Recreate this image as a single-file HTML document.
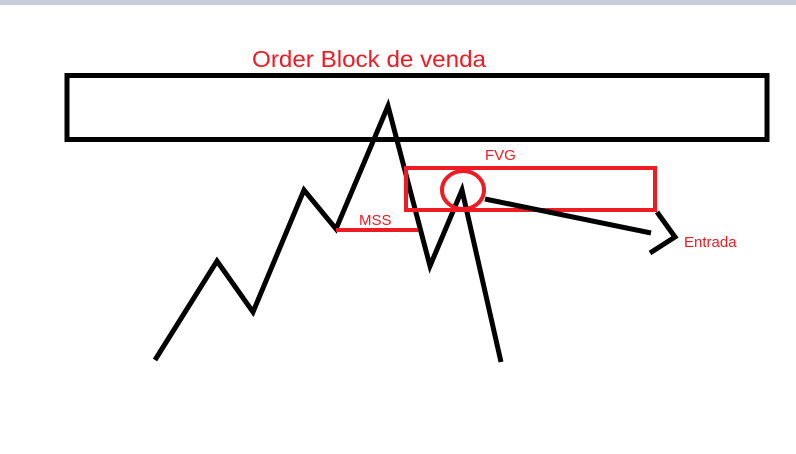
<!DOCTYPE html>
<html><head><meta charset="utf-8"><style>
html,body{margin:0;padding:0;background:#fff;width:796px;height:454px;overflow:hidden}
svg{display:block}
text{font-family:"Liberation Sans",sans-serif;fill:#ed1c24}
</style></head><body>
<svg width="796" height="454" viewBox="0 0 796 454">
<rect x="0" y="0" width="796" height="5" fill="#c8cdd9"/>
<text x="252" y="67" font-size="23.5" textLength="234" lengthAdjust="spacingAndGlyphs">Order Block de venda</text>
<rect x="67" y="75.5" width="700" height="64" fill="none" stroke="#000" stroke-width="5"/>
<polyline points="155,360 217,261 253,312 304,190 336,229 388,106 430,266 462,190 501,362" fill="none" stroke="#000" stroke-width="5" stroke-linejoin="miter"/>
<line x1="336" y1="230" x2="418" y2="230" stroke="#ed1c24" stroke-width="4"/>
<text x="359" y="225" font-size="15">MSS</text>
<rect x="406" y="168" width="249" height="42" fill="none" stroke="#ed1c24" stroke-width="4"/>
<text x="485" y="160" font-size="15">FVG</text>
<ellipse cx="463" cy="190" rx="21" ry="19" fill="none" stroke="#ed1c24" stroke-width="4"/>
<line x1="485" y1="199" x2="651" y2="233" stroke="#000" stroke-width="5"/>
<polyline points="657,212 675,237 650,253" fill="none" stroke="#000" stroke-width="5"/>
<text x="684" y="247" font-size="15">Entrada</text>
</svg>
</body></html>
